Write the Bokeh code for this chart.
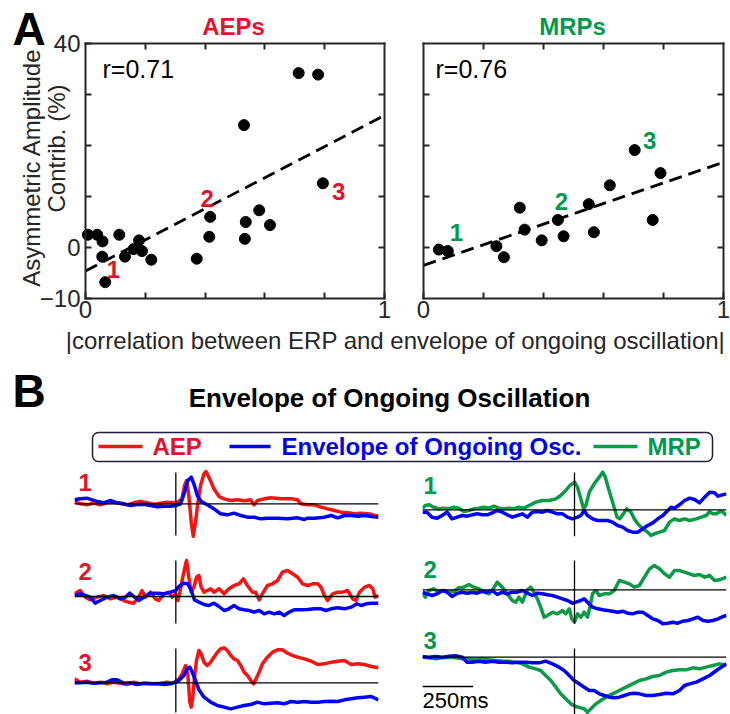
from bokeh.plotting import figure
from bokeh.layouts import column, row
from bokeh.models import Range1d, LinearAxis, Span, BoxAnnotation, FixedTicker
from bokeh.core.properties import value
from bokeh.embed import file_html
from bokeh.resources import INLINE

FONT = "Liberation Sans"
DARK = "#262626"
RED_TXT = "#e3122d"
GREEN_TXT = "#009a4e"
BLUE_TXT = "#0000ee"
RED = "#f51414"
BLUE = "#0000ff"
GREEN = "#0c9a47"

# ---------------- Panel A data ----------------
aep_x = [0.008, 0.039, 0.057, 0.056, 0.066, 0.113, 0.132, 0.161, 0.179, 0.189, 0.22,
         0.372, 0.414, 0.417, 0.533, 0.536, 0.53, 0.581, 0.617, 0.713, 0.778, 0.794]
aep_y = [2.5, 2.5, 1.2, -1.8, -6.8, 2.5, -1.8, -0.3, 1.4, -0.7, -2.4,
         -2.2, 2.1, 6.0, 1.7, 5.0, 24.0, 7.3, 4.4, 34.2, 33.9, 12.6]
aep_fit_x = [0.0, 1.0]
aep_fit_y = [-4.6, 25.9]
aep_r = "r=0.71"
aep_lab = ["1", "2", "3"]
aep_lab_x = [0.093, 0.407, 0.847]
aep_lab_y = [-4.3, 9.6, 11.0]

mrp_x = [0.051, 0.081, 0.243, 0.268, 0.321, 0.337, 0.394, 0.448, 0.467, 0.551,
         0.568, 0.621, 0.704, 0.764, 0.79]
mrp_y = [-0.4, -0.7, 0.25, -1.9, 7.8, 3.5, 1.4, 5.4, 2.2, 8.5,
         3.0, 12.2, 19.1, 5.4, 14.6]
mrp_fit_x = [0.0, 1.0]
mrp_fit_y = [-3.5, 16.7]
mrp_r = "r=0.76"
mrp_lab = ["1", "2", "3"]
mrp_lab_x = [0.11, 0.46, 0.754]
mrp_lab_y = [3.0, 9.0, 21.0]

x_ticks = [0, 1]
x_minor = [0.2, 0.4, 0.6, 0.8]
y_ticks = [-10, 0, 40]
y_minor = [10, 20, 30]
x_lim = (0, 1)
y_lim = (-10, 40)

# ---------------- Panel B data (time in ms, amplitude in a.u.) ----------------
aep1_t = [-500,-472,-439,-406,-373,-340,-307,-274,-241,-208,-175,-142,-109,-76,-43,-10,7,31,43,53,64,76,86,97,109,122,139,149,163,188,213,238,271,304,337,370,386,403,436,469,518,568,601,617,650,683,716,749,782,815,848,881,914,947,972,1000]
aep1_v = [7,0,-3,2,-3,3,5,1,-3,3,7,3,-1,2,5,3,5,15,55,70,25,-55,-97,-55,5,55,90,97,80,45,22,15,10,12,9,12,-3,10,15,18,15,15,12,0,-3,-3,-10,-15,-20,-25,-27,-30,-28,-30,-33,-37]
envA1_t = [-500,-472,-439,-414,-389,-356,-323,-290,-257,-224,-191,-158,-125,-92,-59,-26,0,23,43,59,76,89,106,125,155,188,221,254,287,320,353,386,419,452,502,551,601,634,650,683,733,766,799,832,865,898,931,964,1000]
envA1_v = [12,15,17,12,7,3,10,3,0,-5,-2,-1,-5,-9,-7,-7,-5,0,35,70,80,60,25,7,-3,-15,-30,-33,-28,-35,-40,-40,-45,-43,-43,-45,-42,-47,-43,-43,-40,-35,-42,-35,-35,-37,-35,-38,-40]

aep2_t = [-500,-472,-447,-422,-389,-356,-323,-290,-257,-233,-208,-183,-167,-150,-125,-101,-84,-59,-35,-18,0,10,20,31,45,53,64,76,89,102,114,125,139,155,172,188,213,238,262,287,312,333,353,378,394,411,427,452,477,502,526,551,576,601,625,650,675,700,716,733,749,774,799,823,848,873,889,906,931,955,972,983,1000]
aep2_v = [8,18,-2,-10,-2,3,-7,-2,-12,-17,-20,-2,18,-2,13,-7,-12,8,13,-2,8,-12,13,48,88,108,58,13,28,58,63,28,13,18,23,13,23,8,23,33,38,53,33,13,13,-10,8,33,38,48,73,78,68,58,38,33,38,38,28,3,-12,8,13,13,18,-7,-12,13,28,33,23,-2,3]
envA2_t = [-500,-472,-447,-422,-398,-373,-340,-307,-274,-249,-228,-208,-183,-158,-125,-92,-59,-26,0,15,40,59,76,92,114,139,163,188,213,238,262,287,312,337,361,386,411,436,460,485,510,535,559,584,617,650,683,716,741,766,799,832,865,894,914,939,964,1000]
envA2_v = [3,8,3,-2,-20,-12,-2,3,-7,-2,10,0,-12,-2,10,10,8,13,18,30,40,38,18,-10,-17,-24,-27,-20,-30,-42,-37,-27,-37,-40,-42,-47,-42,-52,-47,-52,-47,-57,-47,-40,-40,-39,-37,-37,-42,-37,-34,-37,-32,-22,-27,-22,-20,-20]

aep3_t = [-500,-472,-439,-406,-373,-340,-307,-274,-241,-208,-175,-142,-109,-76,-43,-18,0,15,31,48,59,69,76,84,92,102,114,125,139,155,172,188,205,221,238,254,271,287,304,320,337,353,370,383,396,411,427,452,477,502,526,551,576,601,634,667,700,733,766,799,832,865,898,931,964,1000]
aep3_v = [12,2,5,-1,2,-3,2,-1,-5,2,-3,-1,-3,-1,2,-1,5,12,27,52,27,-58,-73,-43,17,67,97,87,62,52,62,77,92,102,105,97,82,72,67,52,32,22,7,-3,12,32,57,77,92,99,99,89,82,77,72,65,55,57,62,65,67,55,57,55,49,45]
envA3_t = [-500,-472,-439,-406,-373,-340,-315,-290,-257,-224,-191,-158,-125,-92,-59,-26,0,15,40,56,69,81,97,114,139,172,205,238,271,304,337,370,403,436,469,502,535,568,601,634,667,700,733,766,799,832,865,898,931,964,1000]
envA3_v = [0,0,2,-1,0,2,9,9,-1,0,-5,-1,-3,-3,-5,-3,2,7,22,42,47,32,7,-21,-43,-58,-68,-73,-78,-73,-68,-65,-58,-63,-61,-60,-63,-56,-58,-56,-58,-58,-56,-55,-56,-51,-48,-45,-43,-41,-51]

mrp1_t = [-750,-736,-716,-695,-670,-645,-620,-596,-571,-546,-521,-497,-472,-447,-422,-398,-373,-348,-323,-299,-274,-249,-224,-191,-158,-125,-92,-68,-43,-23,0,15,31,45,56,73,97,122,139,152,168,188,210,224,241,257,279,295,312,337,361,378,394,419,444,469,493,518,543,568,601,625,650,667,683,700,719,733,750]
mrp1_v = [5,13,15,8,3,5,3,8,5,-5,-2,3,5,8,5,11,5,3,5,3,8,5,13,23,28,28,33,43,58,73,83,68,33,3,13,53,78,98,113,98,63,23,-22,-27,-12,3,-7,-27,-42,-57,-67,-77,-72,-67,-62,-37,-27,-32,-27,-32,-27,-22,-17,-5,-12,-12,-5,-7,-17]
envM1_t = [-750,-728,-703,-678,-653,-629,-604,-579,-554,-530,-505,-480,-455,-431,-406,-381,-356,-332,-307,-282,-257,-233,-208,-183,-158,-134,-109,-84,-59,-35,-10,15,31,48,64,89,114,139,163,188,213,238,262,287,312,337,361,386,411,436,460,477,493,518,543,568,592,617,642,667,691,708,729,750]
envM1_v = [-7,-7,-22,-25,-17,-7,-27,-22,-17,-19,-15,-12,-15,-15,-9,-2,-7,-15,-22,-17,-12,-22,-7,-5,-7,-2,-7,-12,-12,-22,-27,-22,-17,-2,-17,-27,-32,-32,-32,-37,-47,-52,-62,-67,-67,-57,-47,-39,-27,-17,-2,8,5,15,28,35,31,21,38,53,51,41,45,48]

mrp2_t = [-750,-736,-719,-695,-670,-645,-620,-596,-571,-546,-521,-497,-472,-447,-422,-406,-381,-356,-332,-307,-290,-274,-257,-233,-216,-200,-183,-167,-150,-134,-109,-84,-59,-43,-26,-13,0,15,31,48,64,76,89,106,122,147,172,196,221,246,271,295,320,345,370,394,419,444,469,493,518,543,568,592,617,642,667,691,716,750]
mrp2_v = [-12,-22,-2,3,-7,-2,-7,-4,6,8,16,8,3,-7,-12,-2,23,8,-12,-32,-37,-22,-37,0,8,-7,-27,-52,-82,-77,-67,-72,-62,-72,-57,-87,-97,-72,-82,-67,-82,-52,-12,-2,-17,-12,-12,-2,28,23,18,8,13,38,63,73,63,48,38,58,58,53,48,43,46,38,43,28,30,38]
envM2_t = [-750,-728,-703,-678,-653,-629,-604,-579,-554,-530,-505,-480,-455,-431,-406,-381,-356,-332,-307,-282,-257,-233,-208,-183,-158,-134,-109,-84,-59,-35,-10,7,31,48,64,89,114,139,163,188,213,238,262,287,312,337,361,386,411,436,460,485,510,535,559,584,609,634,658,683,708,733,750]
envM2_v = [-7,-12,-17,-12,-2,-7,-20,-10,-7,-10,-7,-10,-4,-7,-2,-14,-7,-12,-7,-7,-2,-10,-17,-10,-12,-15,-17,-22,-27,-32,-40,-37,-32,-27,-37,-52,-57,-60,-62,-64,-67,-64,-70,-72,-67,-67,-77,-87,-92,-102,-100,-97,-100,-94,-92,-87,-82,-92,-94,-92,-87,-80,-77]

mrp3_t = [-750,-719,-686,-653,-620,-587,-554,-521,-488,-455,-422,-389,-356,-323,-290,-257,-224,-191,-167,-142,-117,-92,-68,-43,-18,7,31,48,64,81,106,130,155,188,221,254,287,320,353,386,419,452,485,518,551,584,617,650,683,716,750]
mrp3_v = [0,-2,-5,-2,0,-2,-5,-5,-8,-5,-8,-10,-12,-12,-15,-20,-30,-35,-40,-55,-70,-90,-110,-125,-140,-148,-152,-155,-165,-155,-140,-130,-120,-110,-100,-90,-80,-70,-65,-58,-55,-45,-40,-38,-38,-32,-35,-30,-25,-20,-25]
envM3_t = [-750,-719,-686,-653,-620,-587,-554,-530,-505,-472,-439,-406,-373,-340,-307,-274,-241,-208,-175,-142,-109,-76,-51,-26,-2,23,48,73,97,122,147,172,196,221,246,271,295,320,353,386,419,452,485,518,543,568,601,634,667,700,724,750]
envM3_v = [2,0,2,0,3,4,0,-15,-15,-12,-15,-12,-15,-15,-17,-15,-15,-17,-17,-12,-20,-30,-40,-55,-70,-80,-90,-100,-100,-110,-115,-120,-122,-120,-115,-110,-108,-110,-115,-115,-112,-108,-110,-100,-85,-80,-75,-65,-55,-40,-30,-20]

scale_bar_ms = [-750, -500]
scale_bar_text = "250ms"

PANEL_H = 328          # height of each scatter figure (px)
BOX_TOP, BOX_BOTTOM = 43, 298   # pixel rows of the plot box


def style_axis(ax):
    ax.axis_line_color = DARK
    ax.axis_line_width = 2
    ax.axis_line_cap = "square"
    ax.major_tick_in = 6
    ax.major_tick_out = 0
    ax.minor_tick_in = 6
    ax.minor_tick_out = 0
    ax.major_tick_line_color = DARK
    ax.minor_tick_line_color = DARK
    ax.major_tick_line_width = 2
    ax.minor_tick_line_width = 2
    ax.major_label_text_font = FONT
    ax.major_label_text_font_size = "24px"
    ax.major_label_text_color = DARK


def scatter_panel(width, box_left, box_right, xs, ys, fx, fy, r_text, r_px,
                  lx, ly, lt, lcolor, y_labels):
    kx = (x_lim[1] - x_lim[0]) / (box_right - box_left)
    ky = (y_lim[1] - y_lim[0]) / (BOX_BOTTOM - BOX_TOP)
    xr = Range1d(x_lim[0] - box_left * kx, x_lim[0] + (width - box_left) * kx)
    yr = Range1d(y_lim[1] - (PANEL_H - BOX_TOP) * ky, y_lim[1] + BOX_TOP * ky)
    p = figure(width=width, height=PANEL_H, x_range=xr, y_range=yr, min_border=0,
               x_axis_type=None, y_axis_type=None, toolbar_location=None,
               output_backend="svg")
    p.outline_line_color = None
    p.grid.visible = False

    def px(X):
        return xr.start + X * kx

    def py(Y):
        return yr.end - Y * ky

    bottom = LinearAxis(fixed_location=y_lim[0], bounds=x_lim,
                        ticker=FixedTicker(ticks=x_ticks, minor_ticks=x_minor),
                        major_label_standoff=2)
    top = LinearAxis(fixed_location=y_lim[1], bounds=x_lim,
                     ticker=FixedTicker(ticks=[], minor_ticks=x_minor))
    if y_labels:
        lt_ticker = FixedTicker(ticks=y_ticks, minor_ticks=y_minor)
    else:
        lt_ticker = FixedTicker(ticks=[], minor_ticks=[0] + y_minor)
    left = LinearAxis(fixed_location=x_lim[0], bounds=y_lim, ticker=lt_ticker,
                      major_label_standoff=5)
    right = LinearAxis(fixed_location=x_lim[1], bounds=y_lim,
                       ticker=FixedTicker(ticks=[], minor_ticks=[0] + y_minor))
    for ax, side in ((bottom, "below"), (top, "above"), (left, "left"), (right, "right")):
        style_axis(ax)
        p.add_layout(ax, side)

    p.line(fx, fy, line_color="black", line_width=2.8, line_dash="13 7")
    p.scatter(xs, ys, size=11, color="black")
    p.text(x=lx, y=ly, text=lt, text_color=lcolor, text_font=value(FONT),
           text_font_style="bold", text_font_size="24px", text_align="center",
           text_baseline="middle")
    p.text(x=[px(r_px[0])], y=[py(r_px[1])], text=[r_text], text_color="black",
           text_font=value(FONT), text_font_size="25px", text_align="left",
           text_baseline="middle")
    return p, px, py


pa, pa_x, pa_y = scatter_panel(399, 85, 384, aep_x, aep_y, aep_fit_x, aep_fit_y, aep_r, (102, 68),
                               aep_lab_x, aep_lab_y, aep_lab, RED_TXT, True)
pm, pm_x, pm_y = scatter_panel(331, 24, 324, mrp_x, mrp_y, mrp_fit_x, mrp_fit_y, mrp_r, (36, 68),
                               mrp_lab_x, mrp_lab_y, mrp_lab, GREEN_TXT, False)

pa.text(x=[pa_x(12)], y=[pa_y(28)], text=["A"], text_font=value(FONT), text_font_size="46px",
        text_font_style="bold", text_color="black", text_align="left", text_baseline="middle")
pa.text(x=[pa_x(233)], y=[pa_y(25.5)], text=["AEPs"], text_font=value(FONT), text_font_size="24px",
        text_font_style="bold", text_color=RED_TXT, text_align="center", text_baseline="middle")
pm.text(x=[pm_x(173)], y=[pm_y(25.5)], text=["MRPs"], text_font=value(FONT), text_font_size="24px",
        text_font_style="bold", text_color=GREEN_TXT, text_align="center", text_baseline="middle")
pa.text(x=[pa_x(31), pa_x(56)], y=[pa_y(167), pa_y(148)],
        text=["Asymmetric Amplitude", "Contrib. (%)"], text_font=value(FONT),
        text_font_size="24px", text_color=DARK, text_align="center", text_baseline="middle",
        angle=1.5708)

# ---------------- strip with x label, B title and legend ----------------
STRIP_TOP, STRIP_H = 328, 137


def sy(Y):
    return STRIP_TOP + STRIP_H - Y


s = figure(width=730, height=STRIP_H, x_range=Range1d(0, 730), y_range=Range1d(0, STRIP_H),
           min_border=0, x_axis_type=None, y_axis_type=None, toolbar_location=None,
           output_backend="svg")
s.outline_line_color = None
s.grid.visible = False
s.text(x=[395], y=[sy(340)], text=["|correlation between ERP and envelope of ongoing oscillation|"],
       text_font=value(FONT), text_font_size="24px", text_color=DARK, text_align="center",
       text_baseline="middle")
s.text(x=[12], y=[sy(390)], text=["B"], text_font=value(FONT), text_font_size="46px",
       text_font_style="bold", text_color="black", text_align="left", text_baseline="middle")
s.text(x=[389], y=[sy(397)], text=["Envelope of Ongoing Oscillation"], text_font=value(FONT),
       text_font_size="26px", text_font_style="bold", text_color="black", text_align="center",
       text_baseline="middle")
s.add_layout(BoxAnnotation(left=92, right=712, bottom=sy(461), top=sy(432), fill_alpha=0,
                           line_color="#1f1f3d", line_alpha=1, line_width=1.5, border_radius=6))
leg_names = ["AEP", "Envelope of Ongoing Osc.", "MRP"]
leg_line_colors = [RED, BLUE, GREEN]
leg_text_colors = [RED_TXT, BLUE_TXT, GREEN_TXT]
s.segment(x0=[98, 229, 593], y0=[sy(446)] * 3, x1=[142, 270, 637], y1=[sy(446)] * 3,
          line_color=leg_line_colors, line_width=3.5)
s.text(x=[152, 281, 647], y=[sy(445.5)] * 3, text=leg_names, text_color=leg_text_colors,
       text_font=value(FONT), text_font_size="24px", text_font_style="bold",
       text_align="left", text_baseline="middle")


# ---------------- traces ----------------
def trace_panel(width, height, lb, rb, xr, yr, series, vext, lab, lab_xy, lab_color):
    p = figure(width=width, height=height, x_range=Range1d(*xr), y_range=Range1d(*yr),
               min_border_left=lb, min_border_right=rb, min_border_top=0, min_border_bottom=0,
               x_axis_type=None, y_axis_type=None, toolbar_location=None, output_backend="svg")
    p.outline_line_color = None
    p.grid.visible = False
    for t, v, c in series:
        p.line(t, v, line_color=c, line_width=3.5, line_join="round")
    p.add_layout(Span(location=0, dimension="width", line_color="black", line_width=1.3))
    p.segment(x0=[0], y0=[vext[0]], x1=[0], y1=[vext[1]], line_color="black", line_width=1.3)
    p.text(x=[lab_xy[0]], y=[lab_xy[1]], text=[lab], text_color=lab_color,
           text_font=value(FONT), text_font_size="24px", text_font_style="bold",
           text_align="left", text_baseline="middle")
    return p


L1 = trace_panel(399, 85, 74, 21, (-500, 1000), (-140, 115),
                 [(aep1_t, aep1_v, RED), (envA1_t, envA1_v, BLUE)], (-95, 94), "1", (-480, 65), RED_TXT)
L2 = trace_panel(399, 90, 74, 21, (-500, 1000), (-132, 138),
                 [(aep2_t, aep2_v, RED), (envA2_t, envA2_v, BLUE)], (-81, 108), "2", (-480, 75), RED_TXT)
L3 = trace_panel(399, 74, 74, 21, (-500, 1000), (-95, 127),
                 [(aep3_t, aep3_v, RED), (envA3_t, envA3_v, BLUE)], (-89, 103), "3", (-480, 62), RED_TXT)
R1 = trace_panel(331, 80, 23, 4, (-750, 750), (-107, 133),
                 [(mrp1_t, mrp1_v, GREEN), (envM1_t, envM1_v, BLUE)], (-79, 112), "1", (-745, 73), GREEN_TXT)
R2 = trace_panel(331, 83, 23, 4, (-750, 750), (-116, 133),
                 [(mrp2_t, mrp2_v, GREEN), (envM2_t, envM2_v, BLUE)], (-101, 88), "2", (-745, 62), GREEN_TXT)
R3 = trace_panel(331, 86, 23, 4, (-750, 750), (-172, 86),
                 [(mrp3_t, mrp3_v, GREEN), (envM3_t, envM3_v, BLUE)], (-200, 26), "3", (-745, 50), GREEN_TXT)
R3.line(scale_bar_ms, [-88, -88], line_color="black", line_width=1.5)
R3.text(x=[scale_bar_ms[0]], y=[-130], text=[scale_bar_text], text_font=value(FONT),
        text_font_size="22px", text_color="black", text_align="left", text_baseline="middle")

layout = column(row(pa, pm), s, row(column(L1, L2, L3), column(R1, R2, R3)))

with open("out.html", "w") as f:
    f.write(file_html(layout, INLINE))
